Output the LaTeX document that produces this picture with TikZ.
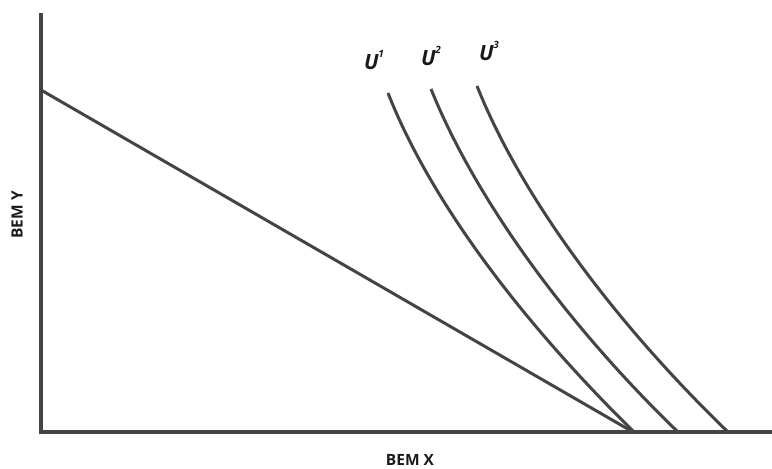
\documentclass[tikz,border=0pt]{standalone}
\usepackage{fontspec}
\setmainfont{Open Sans}
\definecolor{ink}{HTML}{444444}
\definecolor{txt}{HTML}{1A1A1A}
\newcommand{\usup}[1]{\raisebox{0.55em}{\fontsize{10}{11}\selectfont #1}}
\begin{document}
\begin{tikzpicture}[x=1pt,y=-1pt,
  axis/.style={draw=ink,line width=3.8pt},
  curve/.style={draw=ink,line width=3pt},
  lab/.style={text=txt,font=\bfseries\fontsize{15.5}{17}\selectfont,inner sep=0pt},
  ulab/.style={text=txt,font=\bfseries\itshape\fontsize{21}{23}\selectfont,inner sep=0pt}]
\useasboundingbox (0,0) rectangle (772,469);
\coordinate (top) at (41,13);
\coordinate (o) at (41,432);
\coordinate (xend) at (772,432);
\coordinate (b0) at (41,90);
\coordinate (b1) at (633,432);
\draw[axis,line cap=butt] (top) -- (o) -- (xend);
\draw[curve] (b0) -- (b1);
\draw[curve] (388,93) .. controls (430,200) and (520,320) .. (634,432);
\draw[curve] (431,89) .. controls (474,196) and (564,322) .. (678,432);
\draw[curve] (477,86) .. controls (520,194) and (612,320) .. (728,432);
\node[ulab] (u1) at (374,60) {U\kern-0.5pt\usup{1}};
\node[ulab] (u2) at (431,56) {U\kern-0.5pt\usup{2}};
\node[ulab] (u3) at (489,51) {U\kern-0.5pt\usup{3}};
\node[lab] (xl) at (410,460) {BEM X};
\node[lab,rotate=90] (yl) at (17,215) {BEM Y};
\end{tikzpicture}
\end{document}
